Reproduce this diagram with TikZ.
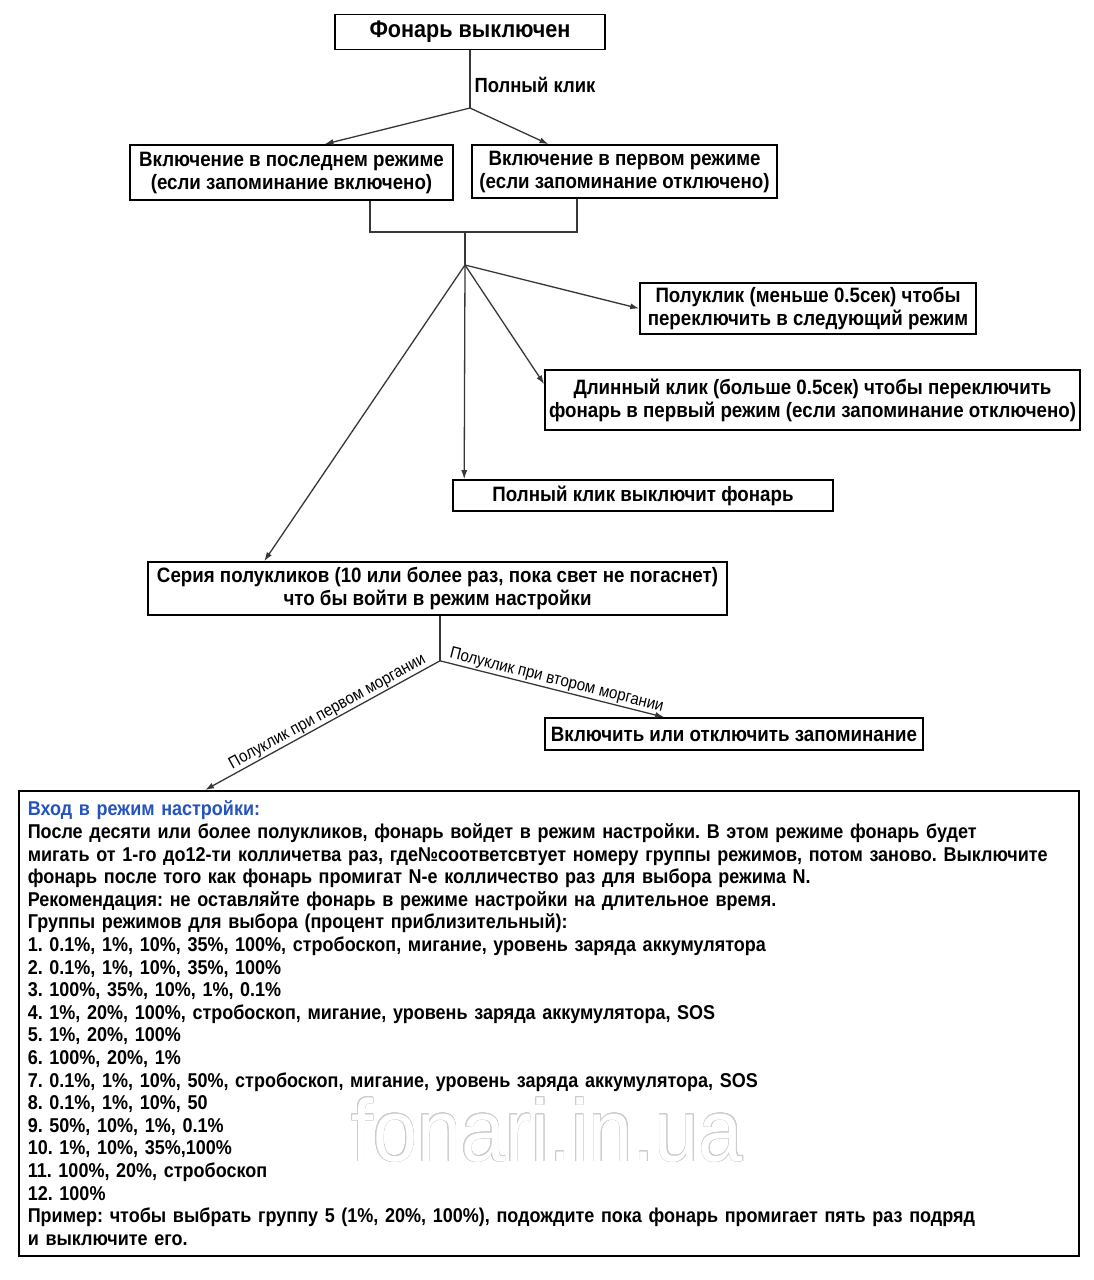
\documentclass[tikz,border=0pt]{standalone}
\usepackage{fontspec}
\setmainfont{Liberation Sans}[FakeStretch=0.9]
\usepackage{xcolor}
\usepackage{tikz}
\usepackage{contour}
\usetikzlibrary{positioning,calc,arrows.meta}
\definecolor{titleblue}{RGB}{38,84,190}
\definecolor{linegray}{RGB}{55,55,55}
\contourlength{0.7pt}
\frenchspacing

\begin{document}
\begin{tikzpicture}[x=1pt, y=-1pt,
    box/.style={draw, line width=1.6pt, align=center, inner sep=0pt,
        font=\fontsize{20.8}{23}\selectfont\bfseries},
    link/.style={draw=linegray, line width=1.3pt, -{Latex[length=9pt,width=6pt]}},
    wire/.style={draw=linegray, line width=1.3pt},
    tag/.style={font=\fontsize{16.8}{20}\selectfont, inner sep=1pt}]
    % Canvas
    \useasboundingbox[fill=white] (0,0) rectangle (1094,1280);

    % Boxes
    \node[box, minimum width=270pt, minimum height=35pt,
        font=\fontsize{24}{28}\selectfont\bfseries] (off) at (470,32) {Фонарь выключен};
    \node[box, minimum width=323pt, minimum height=55pt] (lastmode) at (291.5,172.5)
        {Включение в последнем режиме\\(если запоминание включено)};
    \node[box, minimum width=305pt, minimum height=53pt] (firstmode) at (624.5,171.5)
        {Включение в первом режиме\\(если запоминание отключено)};
    \node[box, minimum width=336pt, minimum height=51pt] (nextmode) at (808,308.5)
        {Полуклик (меньше 0.5сек) чтобы\\переключить в следующий режим};
    \node[box, minimum width=535pt, minimum height=60pt] (longclick) at (812.5,400)
        {Длинный клик (больше 0.5сек) чтобы переключить\\фонарь в первый режим (если запоминание отключено)};
    \node[box, minimum width=380pt, minimum height=31pt] (offclick) at (643,495.5)
        {Полный клик выключит фонарь};
    \node[box, minimum width=579pt, minimum height=53pt] (series) at (437.5,588.5)
        {Серия полукликов (10 или более раз, пока свет не погаснет)\\что бы войти в режим настройки};
    \node[box, minimum width=378pt, minimum height=32pt] (memory) at (734,734)
        {Включить или отключить запоминание};

    % Setup description
    \node[draw, line width=1.6pt, anchor=north west, minimum width=1060pt, minimum height=465pt,
        text width=1042pt, inner xsep=9pt, align=left,
        font=\fontsize{20}{22.6}\selectfont\bfseries] (setup) at (18,790)
        {{\color{titleblue}Вход в режим настройки:}\\
        После десяти или более полукликов, фонарь войдет в режим настройки. В этом режиме фонарь будет\\
        мигать от 1-го до12-ти колличетва раз, где№соответсвтует номеру группы режимов, потом заново. Выключите\\
        фонарь после того как фонарь промигат N-е колличество раз для выбора режима N.\\
        Рекомендация: не оставляйте фонарь в режиме настройки на длительное время.\\
        Группы режимов для выбора (процент приблизительный):\\
        1. 0.1\%, 1\%, 10\%, 35\%, 100\%, стробоскоп, мигание, уровень заряда аккумулятора\\
        2. 0.1\%, 1\%, 10\%, 35\%, 100\%\\
        3. 100\%, 35\%, 10\%, 1\%, 0.1\%\\
        4. 1\%, 20\%, 100\%, стробоскоп, мигание, уровень заряда аккумулятора, SOS\\
        5. 1\%, 20\%, 100\%\\
        6. 100\%, 20\%, 1\%\\
        7. 0.1\%, 1\%, 10\%, 50\%, стробоскоп, мигание, уровень заряда аккумулятора, SOS\\
        8. 0.1\%, 1\%, 10\%, 50\\
        9. 50\%, 10\%, 1\%, 0.1\%\\
        10. 1\%, 10\%, 35\%,100\%\\
        11. 100\%, 20\%, стробоскоп\\
        12. 100\%\\
        Пример: чтобы выбрать группу 5 (1\%, 20\%, 100\%), подождите пока фонарь промигает пять раз подряд\\
        и выключите его.};

    % Watermark
    \node[font=\fontsize{88}{88}\selectfont, text=white] (mark) at (547,1130)
        {\contour{gray!40}{fonari.in.ua}};

    % Junctions
    \coordinate (j1) at (470,108);
    \coordinate (merge) at (465,232);
    \coordinate (j2) at (465,265);
    \coordinate (j3) at ($(series.south)+(2.5,45)$);
    \coordinate (lastfoot) at ($(lastmode.south)+(78.5,0)$);
    \coordinate (firstfoot) at ($(firstmode.south)+(-47.5,0)$);

    % Full click from off
    \draw[wire] (off.south) -- (j1);
    \node[anchor=west, font=\fontsize{20.5}{24}\selectfont\bfseries] (fullclick) at (471,85) {Полный клик};
    \draw[link] (j1) -- ($(lastmode.north)+(33,0)$);
    \draw[link] (j1) -- ($(firstmode.north)+(-76,0)$);

    % Merge of both start modes
    \draw[wire] (lastfoot) |- (merge) -| (firstfoot);
    \draw[wire] (merge) -- (j2);

    % Actions while on
    \draw[link] (j2) -- (nextmode.west);
    \draw[link] (j2) -- ($(longclick.north west)+(0,15)$);
    \draw[link] (j2) -- ($(offclick.north west)+(12,0)$);
    \draw[link] (j2) -- ($(series.north west)+(117,0)$);

    % Setup branch
    \draw[wire] ($(series.south)+(2.5,0)$) -- (j3);
    \draw[link] (j3) -- node[tag, sloped, above, pos=0.46] (firstblink) {Полуклик при первом моргании}
        ($(setup.north west)+(187,0)$);
    \draw[link] (j3) -- node[tag, sloped, above, pos=0.51] (secondblink) {Полуклик при втором моргании}
        ($(memory.north west)+(120,0)$);
\end{tikzpicture}
\end{document}
